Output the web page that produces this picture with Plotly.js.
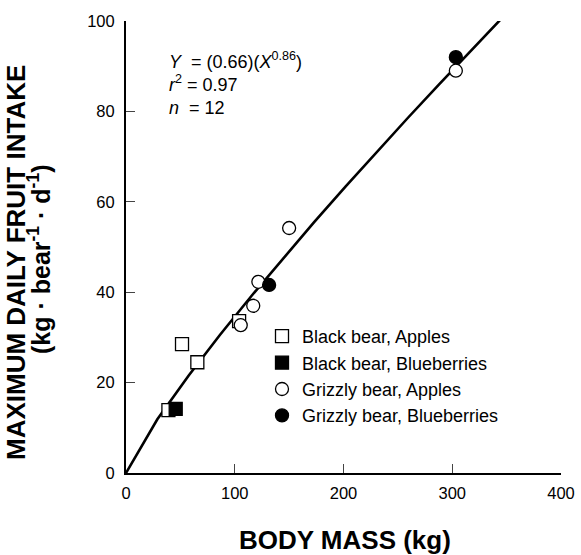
<!DOCTYPE html>
<html>
<head>
<meta charset="utf-8">
<script src="https://cdn.plot.ly/plotly-3.0.1.min.js"></script>
<style>html,body{margin:0;padding:0;background:#fff;}#chart{width:581px;height:555px;}</style>
</head>
<body>
<div id="chart"></div>
<script>
// Data
var blackAppleMass = [39, 51.5, 65.6, 104];
var blackAppleIntake = [13.9, 28.5, 24.5, 33.6];
var blackBlueMass = [45.7];
var blackBlueIntake = [14.2];
var grizAppleMass = [105.5, 117, 121.7, 150, 303.3];
var grizAppleIntake = [32.7, 37, 42.3, 54.2, 89];
var grizBlueMass = [131.6, 303.3];
var grizBlueIntake = [41.6, 92];
// Fitted equation shown on chart: Y = (0.66)(X^0.86)
var fitA = 0.66, fitB = 0.86;
var fitXmax = 346;
var fitSegments = 12;
var seriesNames = ["Black bear, Apples", "Black bear, Blueberries", "Grizzly bear, Apples", "Grizzly bear, Blueberries"];
var xTicks = [0, 100, 200, 300, 400];
var yTicks = [0, 20, 40, 60, 80, 100];

var fitX = [], fitY = [];
for (var i = 0; i <= fitSegments; i++) {
  var xv = fitXmax * i / fitSegments;
  fitX.push(xv);
  fitY.push(fitA * Math.pow(xv, fitB));
}

var mk = function (sym, fill) {
  return {symbol: sym, size: 13, color: fill, line: {color: "#000", width: 1.3}};
};

var traces = [
  {x: fitX, y: fitY, mode: "lines", line: {color: "#000", width: 2.6}, showlegend: false, hoverinfo: "skip"},
  {x: blackAppleMass, y: blackAppleIntake, mode: "markers", name: seriesNames[0], marker: mk("square", "#fff")},
  {x: blackBlueMass, y: blackBlueIntake, mode: "markers", name: seriesNames[1], marker: mk("square", "#000")},
  {x: grizAppleMass, y: grizAppleIntake, mode: "markers", name: seriesNames[2], marker: mk("circle", "#fff")},
  {x: grizBlueMass, y: grizBlueIntake, mode: "markers", name: seriesNames[3], marker: mk("circle", "#000")}
];

var fontFam = "Liberation Sans, Arial, Helvetica, sans-serif";
var px2x = function (p) { return (p - 126) / 435; };
var px2y = function (p) { return (473 - p) / 452; };
var layout = {
  width: 581, height: 555,
  margin: {l: 126, r: 20, t: 21, b: 82, pad: 0},
  paper_bgcolor: "#fff", plot_bgcolor: "#fff",
  font: {family: fontFam, color: "#000", size: 16},
  showlegend: true,
  legend: {x: px2x(262), y: px2y(318), xanchor: "left", yanchor: "top", font: {size: 18, family: fontFam},
           bgcolor: "rgba(0,0,0,0)", tracegroupgap: 0, itemwidth: 30},
  xaxis: {range: [0, 400], tickvals: xTicks, ticks: "inside", ticklen: 9, tickwidth: 1.3,
          showline: true, linewidth: 2, linecolor: "#000", showgrid: false, zeroline: false,
          tickfont: {size: 16.5}, ticklabelstandoff: 4, fixedrange: true},
  yaxis: {range: [0, 100], tickvals: yTicks, ticks: "inside", ticklen: 9, tickwidth: 1.3,
          showline: true, linewidth: 2, linecolor: "#000", showgrid: false, zeroline: false,
          tickfont: {size: 16.5}, ticklabelstandoff: 6, fixedrange: true},
  annotations: [
    {xref: "paper", yref: "paper", x: px2x(345), y: px2y(540), xanchor: "center", yanchor: "middle",
     text: "<b>BODY MASS (kg)</b>", showarrow: false, font: {size: 26, family: fontFam}},
    {xref: "paper", yref: "paper", x: px2x(16), y: px2y(263), xanchor: "center", yanchor: "middle", textangle: -90,
     text: "<b>MAXIMUM DAILY FRUIT INTAKE</b>",
     showarrow: false, font: {size: 26, family: fontFam}},
    {xref: "paper", yref: "paper", x: px2x(39), y: px2y(260), xanchor: "center", yanchor: "middle", textangle: -90,
     text: "<b>(kg · bear<sup>-1</sup> · d<sup>-1</sup>)</b>",
     showarrow: false, font: {size: 25, family: fontFam}},
    {xref: "paper", yref: "paper", x: px2x(167), y: px2y(47), xanchor: "left", yanchor: "top", align: "left",
     text: "<i>Y</i>  = (0.66)(<i>X</i><sup>0.86</sup>)<br><i>r</i><sup>2</sup> = 0.97<br><i>n</i>  = 12",
     showarrow: false, font: {size: 18, family: fontFam}}
  ]
};

Plotly.newPlot("chart", traces, layout, {staticPlot: true, displayModeBar: false});
</script>
</body>
</html>
